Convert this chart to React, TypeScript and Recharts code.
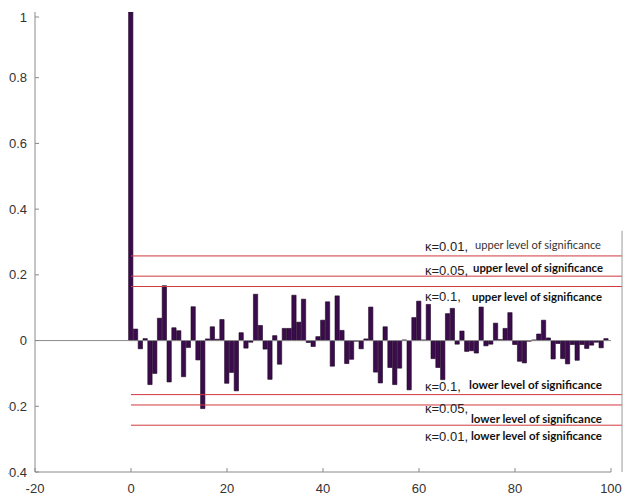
import { ComposedChart, Bar, XAxis, YAxis, ReferenceLine } from 'recharts'

// autocorrelation by lag (lag = index)
const acf = [
  1.0, 0.035, -0.025, 0.006, -0.134, -0.1, 0.068, 0.167, -0.126, 0.039,
  0.03, -0.11, -0.021, 0.103, -0.059, -0.207, 0.005, 0.042, 0.004, 0.064,
  -0.13, -0.097, -0.153, 0.024, -0.023, -0.005, 0.141, 0.046, -0.026, -0.118,
  0.015, -0.072, 0.037, 0.037, 0.138, 0.056, 0.126, -0.006, -0.018, 0.012,
  0.062, 0.118, -0.078, 0.136, 0.031, -0.07, -0.057, -0.002, -0.025, 0.005,
  0.102, -0.096, -0.129, 0.042, -0.082, -0.134, -0.084, 0.002, -0.15, 0.07,
  0.12, 0.002, 0.11, -0.055, -0.082, -0.119, 0.082, 0.098, -0.011, 0.029,
  -0.033, -0.031, -0.038, 0.102, -0.016, -0.011, 0.053, 0.003, 0.037, 0.085,
  -0.012, -0.063, -0.068, -0.002, 0.002, 0.02, 0.062, 0.008, -0.056, -0.009,
  -0.055, -0.071, -0.012, -0.06, -0.012, -0.024, -0.014, -0.005, -0.022, 0.006,
]

const xTicks = [-20, 0, 20, 40, 60, 80, 100]
const yTicks = [-0.4, -0.2, 0, 0.2, 0.4, 0.6, 0.8, 1]

// significance bounds for kappa = 0.01, 0.05, 0.1
const kappas = ['κ=0.01,', 'κ=0.05,', 'κ=0.1,']
const bounds = [0.2576, 0.196, 0.1645]
const upperText = 'upper level of significance'
const lowerText = 'lower level of significance'

const data = acf.map((v, i) => ({ lag: i, acf: v }))

const tickFont = '"Liberation Sans", Arial, sans-serif'
const axisGray = '#8a8a8a'
const red = '#d0393e'

function XTick({ x, y, payload }: any) {
  return (
    <g>
      <line x1={x} x2={x} y1={y - 12} y2={y - 16} stroke={axisGray} />
      <text x={x} y={y} dy="0.71em" textAnchor="middle" fontFamily={tickFont} fontSize={13} fill="#333">
        {payload.value}
      </text>
    </g>
  )
}

function YTick({ x, y, payload }: any) {
  return (
    <g>
      <line x1={x + 8} x2={x + 12} y1={y} y2={y} stroke={axisGray} />
      <text x={x} y={y} dy="0.355em" textAnchor="end" fontFamily={tickFont} fontSize={13} fill="#333">
        {payload.value}
      </text>
    </g>
  )
}

// label layout per line: [kappa dy, text dx, text dy, text width, bold]
const upperLayout = [
  [-5, 50, -7, 126, false],
  [-1, 48, -4, 130, true],
  [14, 47, 14, 130, true],
]
const lowerLayout = [
  [16, 46, 15, 131, true],
  [8, 46, 18, 131, true],
  [-4, 44, -6, 133, true],
]

function makeLabel(kappa: string, text: string, layout: any[]) {
  const [dyK, dxT, dyT, w, bold] = layout
  return (props: any) => {
    const vb = props.viewBox || {}
    const x0 = vb.x + 294
    const y = vb.y
    return (
      <g>
        <text x={x0} y={y + dyK} fontFamily={tickFont} fontSize={13} fill="#222">
          {kappa}
        </text>
        <text
          x={x0 + dxT}
          y={y + dyT}
          fontFamily="Lato, sans-serif"
          fontWeight={bold ? 700 : 400}
          fontSize={bold ? 12 : 11}
          fill={bold ? '#111' : '#333'}
          textLength={w}
          lengthAdjust="spacingAndGlyphs"
        >
          {text}
        </text>
      </g>
    )
  }
}

export default function App() {
  return (
    <div style={{ marginLeft: -8 }}>
      <ComposedChart
        width={634}
        height={489}
        data={data}
        margin={{ top: 4, right: 23, bottom: 0, left: 0 }}
      >
        <XAxis
          type="number"
          dataKey="lag"
          domain={[-20, 100]}
          ticks={xTicks}
          allowDataOverflow
          stroke={axisGray}
          tickLine={false}
          tickSize={0}
          tickMargin={12}
          height={25}
          tick={<XTick />}
        />
        <YAxis
          type="number"
          domain={[-0.4, 1]}
          ticks={yTicks}
          allowDataOverflow
          stroke={axisGray}
          tickLine={false}
          tickSize={0}
          tickMargin={8}
          width={35}
          tick={<YTick />}
        />
        <ReferenceLine y={0} stroke={axisGray} />
        {bounds.map((b, i) => (
          <ReferenceLine
            key={'u' + i}
            segment={[{ x: 0, y: b }, { x: 102.3, y: b }]}
            ifOverflow="visible"
            stroke={red}
            label={makeLabel(kappas[i], upperText, upperLayout[i])}
          />
        ))}
        {bounds.map((b, i) => (
          <ReferenceLine
            key={'l' + i}
            segment={[{ x: 0, y: -b }, { x: 102.3, y: -b }]}
            ifOverflow="visible"
            stroke={red}
            label={makeLabel(kappas[i], lowerText, lowerLayout[i])}
          />
        ))}
        <ReferenceLine
          segment={[{ x: 102.3, y: 0.334 }, { x: 102.3, y: -0.4 }]}
          ifOverflow="visible"
          stroke="#9a9a9a"
        />
        <Bar
          dataKey="acf"
          barSize={4.3}
          fill="#3b0c4c"
          stroke="#1c0424"
          strokeWidth={0.6}
          isAnimationActive={false}
        />
      </ComposedChart>
    </div>
  )
}
